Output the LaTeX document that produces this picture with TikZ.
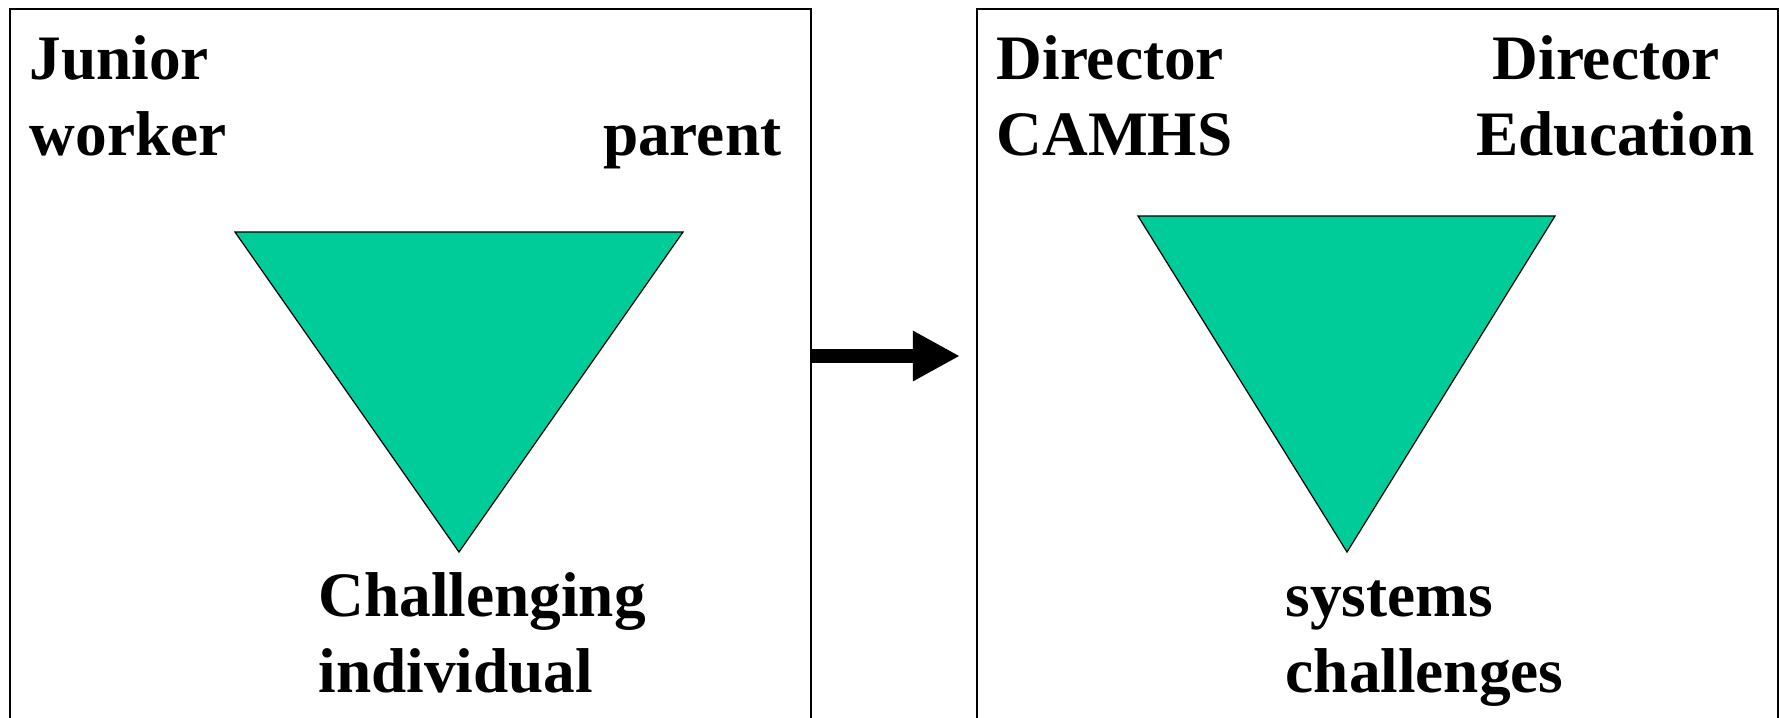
\documentclass[tikz,border=0pt]{standalone}
\usepackage{fontspec}
\setmainfont{Liberation Serif}
\usetikzlibrary{positioning,arrows.meta}

\begin{document}
\begin{tikzpicture}[x=0.01cm, y=-0.01cm,
    panel/.style={draw=black, line width=0.02cm, minimum width=8.01cm, minimum height=7.8cm, anchor=north west, inner sep=0pt},
    wedge/.style={draw=black, line width=0.35pt, fill=wedgegreen},
    label/.style={font=\fontsize{18pt}{21.6pt}\selectfont\bfseries, inner sep=0pt},
    bigarrow/.style={line width=0.14cm, -{Triangle[length=0.47cm, width=0.47cm]}, shorten >=0.16cm}]
    \definecolor{wedgegreen}{RGB}{0,204,153}
    \clip (0,0) rectangle (1779,717);
    \useasboundingbox (0,0) rectangle (1779,717);

    \node [panel] (leftbox) at (9,8) {};
    \node [panel] (rightbox) at (976,8) {};

    \draw [wedge] (235,232) -- (683,232) -- (459,552) -- cycle;
    \draw [wedge] (1138,216) -- (1555,216) -- (1347,552) -- cycle;

    \node [label, anchor=base west, align=left] (junior) at (29,155) {Junior\\worker};
    \node [label, anchor=base east] (parent) at (782,155) {parent};
    \node [label, anchor=base west, align=left] (individual) at (318,692) {Challenging\\individual};

    \node [label, anchor=base west, align=left] (camhs) at (996,155) {Director\\CAMHS};
    \node [label, anchor=base east, align=center] (education) at (1755,155) {Director\hspace*{0.18cm}\\Education};
    \node [label, anchor=base west, align=left] (systems) at (1285,692) {systems\\challenges};

    \draw [bigarrow] (leftbox.north east |- 0,356) -- (rightbox.north west |- 0,356);
\end{tikzpicture}
\end{document}
